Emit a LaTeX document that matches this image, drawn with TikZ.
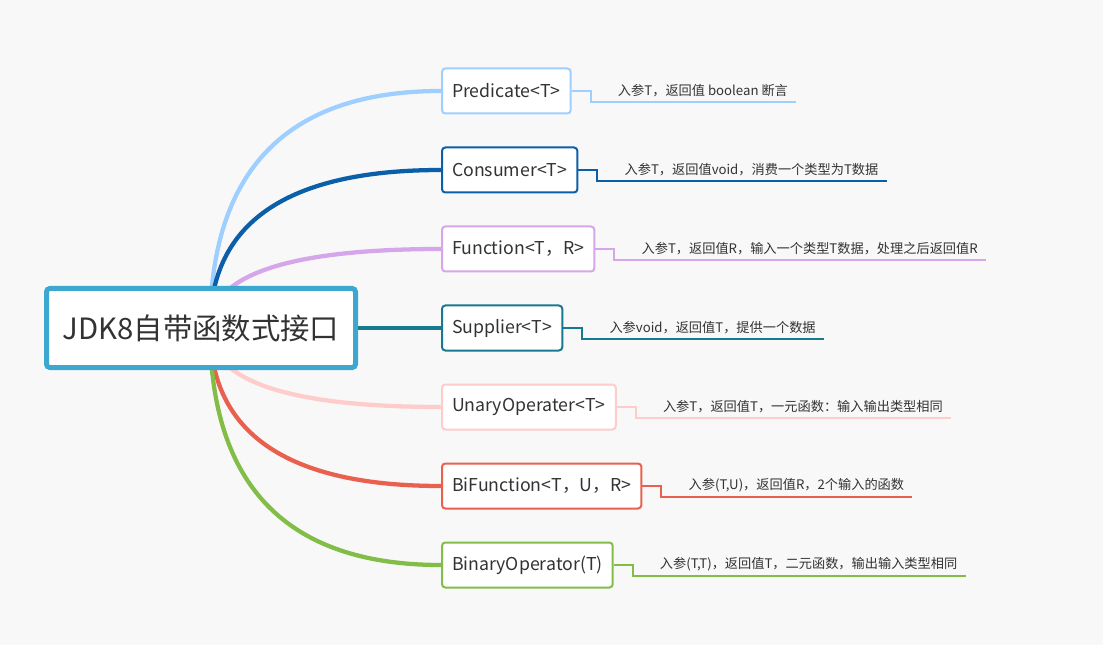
\documentclass[tikz,border=0pt]{standalone}
\usepackage{fontspec}
\setmainfont{Noto Sans CJK SC}
\usetikzlibrary{positioning,calc,backgrounds}

\definecolor{bgcol}{HTML}{F8F8F8}
\definecolor{txtcol}{HTML}{333333}
\definecolor{rootcol}{HTML}{3CA8D0}
\definecolor{predcol}{HTML}{9ECFFF}
\definecolor{conscol}{HTML}{0A5FA8}
\definecolor{funccol}{HTML}{D6A6EA}
\definecolor{suppcol}{HTML}{17798F}
\definecolor{unarycol}{HTML}{FFCCCC}
\definecolor{bifunccol}{HTML}{E9604F}
\definecolor{binarycol}{HTML}{82BD47}

\begin{document}
\begin{tikzpicture}[x=0.75pt,y=-0.75pt]
\tikzset{
	rootbox/.style={draw=rootcol,
		line width=3.75pt,
		fill=white,
		rounded corners=2.5pt,
		minimum width=231.75pt,
		minimum height=59.25pt,
		text=txtcol,
		font=\fontsize{22}{26}\selectfont
	},
	childbox/.style={anchor=west,
		line width=1.5pt,
		fill=white,
		rounded corners=2.5pt,
		minimum height=33.75pt,
		inner xsep=7.5pt,
		text=txtcol,
		font=\fontsize{13.3}{16}\selectfont
	},
	desc/.style={anchor=south west,
		inner xsep=6pt, inner ysep=3.5pt,
		text=txtcol,
		font=\fontsize{9.9}{12}\selectfont
	},
	leaf/.style={line width=1.5pt},
	branch/.style={line width=3.2pt,
		to path={.. controls ($(\tikztostart)!2/3!(\tikztostart |- \tikztotarget)$) and ($(\tikztotarget)!2/3!(\tikztostart |- \tikztotarget)$) .. (\tikztotarget)}
	}
}

\node[rootbox] (root) at (201,328) {JDK8自带函数式接口};
\coordinate (hub) at ($(root.center)+(9,0)$);

\node[childbox, draw=predcol] (pred) at (441,91) {Predicate<T>};
\node[childbox, draw=conscol] (cons) at (441,170) {Consumer<T>};
\node[childbox, draw=funccol] (func) at (441,249) {Function<T，R>};
\node[childbox, draw=suppcol] (supp) at (441,328) {Supplier<T>};
\node[childbox, draw=unarycol] (unary) at (441,407) {UnaryOperater<T>};
\node[childbox, draw=bifunccol] (bifunc) at (441,486) {BiFunction<T，U，R>};
\node[childbox, draw=binarycol] (binary) at (441,565) {BinaryOperator(T)};

\node[desc] (predtxt) at ([shift={(38,11)}]pred.east) {入参T，返回值 boolean 断言};
\node[desc] (constxt) at ([shift={(38,11)}]cons.east) {入参T，返回值void，消费一个类型为T数据};
\node[desc] (functxt) at ([shift={(38,11)}]func.east) {入参T，返回值R，输入一个类型T数据，处理之后返回值R};
\node[desc] (supptxt) at ([shift={(38,11)}]supp.east) {入参void，返回值T，提供一个数据};
\node[desc] (unarytxt) at ([shift={(38,11)}]unary.east) {入参T，返回值T，一元函数：输入输出类型相同};
\node[desc] (bifunctxt) at ([shift={(38,11)}]bifunc.east) {入参(T,U)，返回值R，2个输入的函数};
\node[desc] (binarytxt) at ([shift={(38,11)}]binary.east) {入参(T,T)，返回值T，二元函数，输出输入类型相同};

\begin{scope}[on background layer]
% background, also fixes the size
\fill[bgcol] (0,0) rectangle (1103,645);
\draw[branch, predcol] (hub) to (pred.west);
\draw[branch, conscol] (hub) to (cons.west);
\draw[branch, funccol] (hub) to (func.west);
\draw[line width=3.2pt, suppcol] (root.east) -- (supp.west);
\draw[branch, unarycol] (hub) to (unary.west);
\draw[branch, bifunccol] (hub) to (bifunc.west);
\draw[branch, binarycol] (hub) to (binary.west);
\end{scope}

\draw[leaf, predcol] (pred.east) -- ++(19,0) |- (predtxt.south east);
\draw[leaf, conscol] (cons.east) -- ++(19,0) |- (constxt.south east);
\draw[leaf, funccol] (func.east) -- ++(19,0) |- (functxt.south east);
\draw[leaf, suppcol] (supp.east) -- ++(19,0) |- (supptxt.south east);
\draw[leaf, unarycol] (unary.east) -- ++(19,0) |- (unarytxt.south east);
\draw[leaf, bifunccol] (bifunc.east) -- ++(19,0) |- (bifunctxt.south east);
\draw[leaf, binarycol] (binary.east) -- ++(19,0) |- (binarytxt.south east);
\end{tikzpicture}
\end{document}
